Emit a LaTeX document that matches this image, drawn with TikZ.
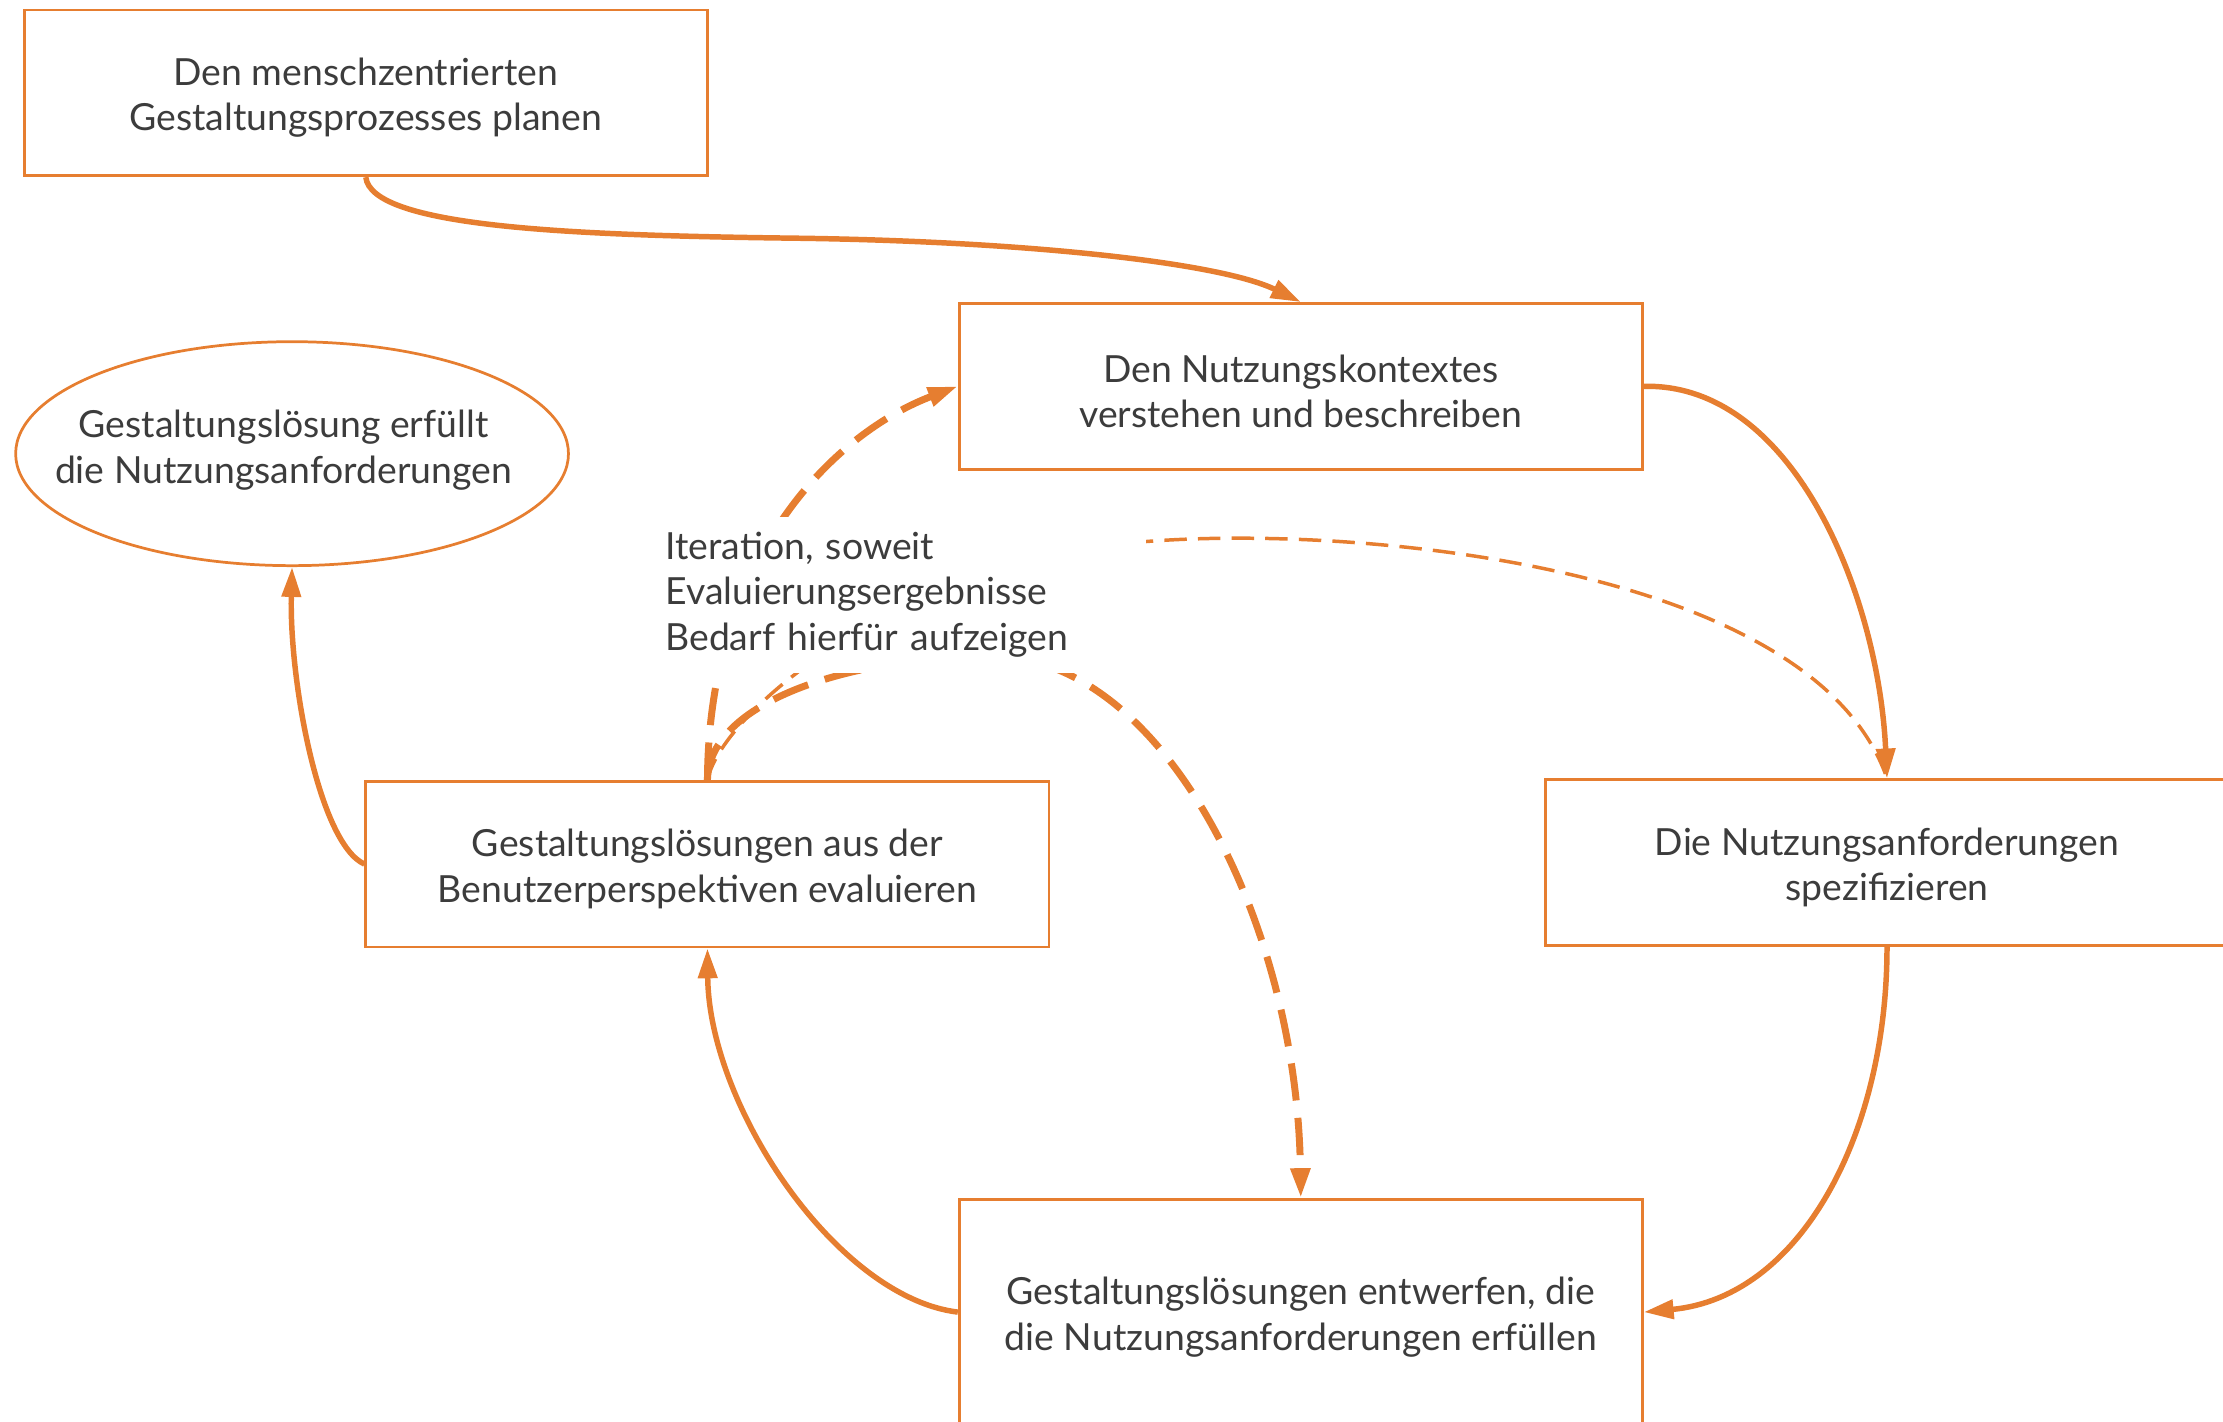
\documentclass[tikz,border=0pt]{standalone}
\usepackage{fontspec}
\setmainfont{Lato}
\usetikzlibrary{arrows.meta,shapes.geometric}
\definecolor{org}{HTML}{E67E30}
\definecolor{txt}{HTML}{3C3C3C}
\newcommand\bxstrut{\rule{0pt}{15pt}}
\begin{document}
\begin{tikzpicture}[x=0.02cm,y=-0.02cm,
  txtfont/.style={text=txt, font=\fontsize{15}{18.2}\selectfont},
  box/.style={txtfont, draw=org, line width=1.1pt, minimum width=9.64cm, minimum height=2.34cm, align=center, inner sep=0pt},
  ell/.style={draw=org, line width=1.1pt, ellipse, minimum width=7.8cm, minimum height=3.16cm, inner sep=0pt},
  elltext/.style={txtfont, align=center, inner sep=0pt},
  lbl/.style={txtfont, fill=white, text width=6.6cm, align=left, inner xsep=0.18cm, inner ysep=0.22cm},
  solidarr/.style={draw=org, line width=2.2pt, -{Triangle[length=12pt,width=7.5pt]}},
  thickdash/.style={draw=org, line width=2.8pt, dash pattern=on 15pt off 7pt, -{Triangle[length=12pt,width=7.5pt]}},
  thindash/.style={draw=org, line width=1.4pt, dash pattern=on 9pt off 4.5pt}
]
\useasboundingbox (0,0) rectangle (1568,1003);
\node[box] (plan) at (258,65.5) {\bxstrut Den menschzentrierten\\Gestaltungsprozesses planen};
\node[box] (context) at (917.5,272.5) {\bxstrut Den Nutzungskontextes\\verstehen und beschreiben};
\node[box] (eval) at (499,609.5) {\bxstrut Gestaltungslösungen aus der\\Benutzerperspektiven evaluieren};
\node[box] (spec) at (1331,608.5) {\bxstrut Die Nutzungsanforderungen\\spezifizieren};
\node[box, minimum height=3.18cm] (design) at (917.5,925.5) {\bxstrut Gestaltungslösungen entwerfen, die\\die Nutzungsanforderungen erfüllen};
\node[ell] (goal) at (206,320) {};
\node[elltext] (goaltext) at (200,317.5) {Gestaltungslösung erfüllt\\die Nutzungsanforderungen};

% solid cycle
\draw[solidarr] (plan.south) .. controls (262,160) and (400,166) .. (560,168)
   .. controls (720,170) and (860,185) .. (context.north);
\draw[solidarr] (context.east) .. controls (1265,270) and (1325,420) .. (spec.north);
\draw[solidarr] (spec.south) .. controls (1331,800) and (1270,915) .. (design.east);
\draw[solidarr] (design.west) .. controls (590,915) and (500,780) .. (eval.south);
\draw[solidarr] (eval.west) .. controls (225,595) and (204,480) .. (goal.south);

% iteration paths
\draw[thindash] (eval.north) .. controls (510,500) and (640,395) .. (808,382)
   .. controls (960,370) and (1280,400) .. (spec.north);
\draw[thickdash] (eval.north) .. controls (500,390) and (590,305) .. (context.west);
\draw[thickdash] (eval.north) .. controls (500,495) and (600,463) .. (700,463)
   .. controls (820,463) and (915,650) .. (design.north);

\node[lbl, anchor=north west] (iter) at (460,364) {Iteration, soweit\\Evaluierungsergebnisse\\Bedarf hierfür aufzeigen};
\end{tikzpicture}
\end{document}
